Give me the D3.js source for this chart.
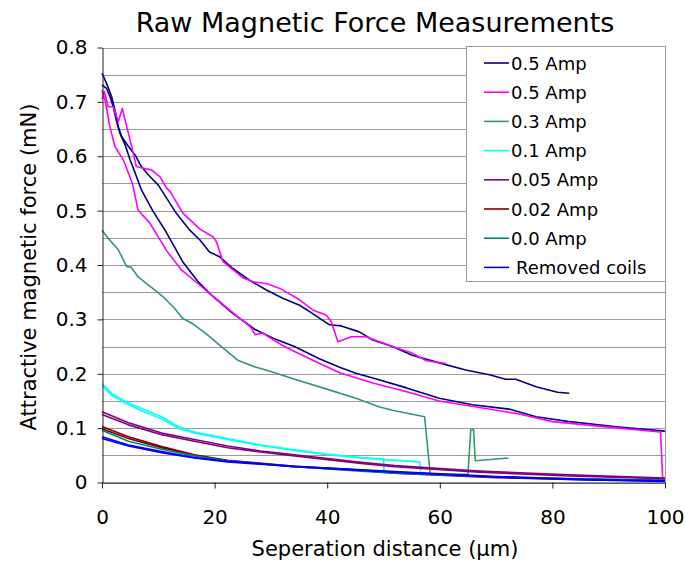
<!DOCTYPE html>
<html>
<head>
<meta charset="utf-8">
<script src="https://cdn.jsdelivr.net/npm/d3@7"></script>
<style>
  body { margin: 0; background: #fff; }
  text { font-family: "DejaVu Sans", Verdana, sans-serif; }
</style>
</head>
<body>
<svg id="chart" width="685" height="562"></svg>
<script>
// distance (um) vs force (mN)
let navyOut = [[0,0.753],[0.8,0.734],[1.7,0.710],[2.3,0.685],[2.9,0.654],[3.5,0.636],[4.7,0.618],[5.9,0.602],[7.0,0.581],[8.2,0.566],[10.0,0.547],[13.2,0.495],[15.6,0.464],[17.4,0.446],[19.1,0.424],[20.9,0.415],[23.2,0.394],[26.2,0.372],[29.2,0.354],[32.1,0.339],[35.1,0.326],[37.5,0.310],[40.4,0.290],[42.5,0.288],[45.7,0.277],[48.1,0.262],[51.6,0.250],[55.1,0.234],[59.9,0.220],[64.6,0.207],[68.8,0.198],[71.7,0.190],[73.5,0.190],[77.1,0.176],[80.9,0.166],[83,0.164]]
let navyBack = [[0,0.731],[0.8,0.725],[1.4,0.710],[2.0,0.691],[2.6,0.664],[3.2,0.642],[4.1,0.621],[5.0,0.593],[5.9,0.569],[7.0,0.538],[9.0,0.500],[11.2,0.464],[14.4,0.405],[17.0,0.370],[19.4,0.345],[23.0,0.313],[27.1,0.282],[30.5,0.265],[34.2,0.250],[38.5,0.228],[42.2,0.212],[45.1,0.201],[48.1,0.192],[54.1,0.174],[59.9,0.155],[65.8,0.143],[72.3,0.135],[77.1,0.121],[83,0.112],[91.8,0.102],[99.5,0.095],[100,0.094]]
let magentaOut = [[0,0.705],[0.4,0.719],[1.1,0.691],[2.0,0.691],[2.9,0.664],[3.6,0.688],[4.4,0.654],[5.2,0.621],[6.1,0.581],[7.3,0.578],[8.8,0.575],[10.3,0.562],[11.5,0.541],[12.1,0.535],[14.4,0.495],[17.4,0.466],[19.7,0.452],[20.3,0.443],[21.5,0.406],[23.3,0.391],[25.1,0.376],[26.8,0.369],[29.2,0.366],[31.6,0.357],[35.1,0.336],[37.5,0.317],[39.8,0.308],[40.7,0.296],[41.9,0.259],[44.3,0.268],[46.9,0.268],[51.6,0.250],[55.1,0.238],[57.6,0.224],[61.1,0.219]]
let magentaBack = [[0,0.722],[0.6,0.700],[1.4,0.654],[2.3,0.618],[3.8,0.593],[5.4,0.550],[6.4,0.501],[8.5,0.477],[11.5,0.426],[14.1,0.391],[17.7,0.360],[21.2,0.330],[24.8,0.299],[26.5,0.285],[27.2,0.272],[28.5,0.275],[31.9,0.253],[34.2,0.241],[38.0,0.222],[42.2,0.202],[48.1,0.183],[54.1,0.167],[59.9,0.150],[67.6,0.137],[74.1,0.126],[80,0.112],[91.8,0.100],[99.2,0.093],[99.6,0.005]]
let green3 = [[0,0.464],[1.1,0.449],[2.9,0.428],[4.4,0.397],[5.2,0.396],[6.4,0.378],[9.4,0.354],[10.8,0.342],[12.9,0.320],[14.3,0.302],[16.4,0.290],[18.8,0.271],[21.2,0.250],[24.1,0.225],[27.1,0.213],[30,0.204],[34.2,0.190],[39.2,0.174],[45.1,0.155],[49.3,0.139],[51.6,0.133],[57.3,0.121],[58.3,0.015],[65,0.015],[65.5,0.097],[66.0,0.097],[66.3,0.040],[72.2,0.045]]
let cyanA = [[0,0.182],[1.7,0.164],[4.1,0.149],[7.0,0.136],[10.6,0.121],[13.5,0.103],[16.4,0.093],[22.3,0.081],[28.2,0.069],[34.2,0.060],[40.1,0.052],[46.0,0.046],[50.0,0.043],[50.1,0.022]]
let cyanB = [[0,0.178],[1.7,0.161],[4.1,0.146],[7.0,0.132],[10.6,0.117],[13.5,0.100],[16.4,0.091],[22.3,0.079],[28.2,0.068],[34.2,0.059],[40.1,0.051],[46.0,0.045],[50,0.042],[56.4,0.038],[56.6,0.020]]
let purpleA = [[0,0.130],[4.7,0.110],[10.6,0.091],[16.4,0.079],[22.3,0.067],[28.2,0.058],[34.2,0.051],[40.1,0.044],[46,0.037],[52,0.031],[67,0.021],[83,0.014],[100,0.008]]
let purpleB = [[0,0.125],[4.7,0.106],[10.6,0.088],[16.4,0.076],[22.3,0.064],[28.2,0.056],[34.2,0.049],[40.1,0.042],[46,0.035],[52,0.029],[67,0.019],[83,0.012],[100,0.007]]
let redA = [[0,0.103],[4.7,0.084],[10.6,0.066],[16.4,0.051],[22.3,0.041],[34.2,0.030],[46,0.023],[52,0.018],[70,0.010],[85,0.006],[100,0.004]]
let redB = [[0,0.099],[4.7,0.081],[10.6,0.064],[16.4,0.050],[22.3,0.040],[34.2,0.029],[46,0.022],[52,0.017],[70,0.009],[85,0.005],[100,0.003]]
let tealA = [[0,0.096],[4.7,0.076],[10.6,0.061],[16.4,0.049],[22.3,0.040],[34.2,0.029],[46,0.021],[52,0.017],[70,0.010],[100,0.004]]
let blueA = [[0,0.084],[4.7,0.069],[10.6,0.057],[16.4,0.046],[22.3,0.039],[34.2,0.030],[52,0.020],[70,0.011],[85,0.006],[100,0.003]]
let blueB = [[0,0.081],[4.7,0.067],[10.6,0.055],[16.4,0.045],[22.3,0.038],[34.2,0.029],[52,0.019],[70,0.010],[85,0.005],[100,0.002]]

let names = ["0.5 Amp", "0.5 Amp", "0.3 Amp", "0.1 Amp", "0.05 Amp", "0.02 Amp", "0.0 Amp", "Removed coils"]
let colors = ["#000080", "#ff00ff", "#339966", "#00ffff", "#800080", "#800000", "#008080", "#0000ff"]
let traces = [[navyOut, navyBack], [magentaOut, magentaBack], [green3], [cyanA, cyanB], [purpleA, purpleB], [redA, redB], [tealA], [blueA, blueB]]

let xTicks = [0, 20, 40, 60, 80, 100]
let yTicks = [0, 0.1, 0.2, 0.3, 0.4, 0.5, 0.6, 0.7, 0.8]
let yGrid = d3.range(0, 0.8001, 0.05)

let x = d3.scaleLinear().domain([0, 100]).range([102, 665])
let y = d3.scaleLinear().domain([0, 0.8]).range([482.5, 47.5])

let svg = d3.select("#chart")

// grid
svg.append("g")
    .selectAll("line")
    .data(yGrid)
    .join("line")
    .attr("x1", x(0))
    .attr("x2", x(100))
    .attr("y1", d => Math.round(y(d)) + 0.5)
    .attr("y2", d => Math.round(y(d)) + 0.5)
    .attr("stroke", "#9a9a9a")
    .attr("stroke-width", 1)

svg.append("line")
    .attr("x1", Math.round(x(100)) + 0.5)
    .attr("x2", Math.round(x(100)) + 0.5)
    .attr("y1", y(0.8))
    .attr("y2", y(0))
    .attr("stroke", "#9a9a9a")

let line = d3.line()
    .x(d => x(d[0]))
    .y(d => y(d[1]))

let series = names.map((n, i) => ({ name: n, color: colors[i], traces: traces[i] }))

svg.append("g")
    .selectAll("g")
    .data(series)
    .join("g")
    .attr("stroke", d => d.color)
    .selectAll("path")
    .data(d => d.traces)
    .join("path")
    .attr("d", line)
    .attr("fill", "none")
    .attr("stroke-width", 1.6)
    .attr("stroke-linejoin", "round")

// axes
let axisL = d3.axisLeft(y)
    .tickValues(yTicks)
    .tickSizeInner(5)
    .tickSizeOuter(0)
    .tickPadding(10)
    .tickFormat(d => d === 0 ? "0" : d.toFixed(1))

let axisB = d3.axisBottom(x)
    .tickValues(xTicks)
    .tickSizeInner(6)
    .tickSizeOuter(0)
    .tickPadding(21)

let gl = svg.append("g")
    .attr("transform", "translate(102.5,0)")
    .call(axisL)
gl.select(".domain").attr("stroke", "#222")
gl.selectAll(".tick line").attr("stroke", "#222")
gl.selectAll("text").attr("font-size", 20).attr("fill", "#000")
    .attr("font-family", "DejaVu Sans, Verdana, sans-serif")

let gb = svg.append("g")
    .attr("transform", "translate(0,482.5)")
    .call(axisB)
gb.select(".domain").attr("stroke", "#222")
gb.selectAll(".tick line").attr("stroke", "#222")
gb.selectAll("text").attr("font-size", 20).attr("fill", "#000")
    .attr("font-family", "DejaVu Sans, Verdana, sans-serif")

// titles
svg.append("text")
    .attr("x", 375)
    .attr("y", 32)
    .attr("text-anchor", "middle")
    .attr("font-size", 27)
    .text("Raw Magnetic Force Measurements")

svg.append("text")
    .attr("x", 385)
    .attr("y", 556)
    .attr("text-anchor", "middle")
    .attr("font-size", 21)
    .text("Seperation distance (μm)")

svg.append("text")
    .attr("transform", "translate(36,267) rotate(-90)")
    .attr("text-anchor", "middle")
    .attr("font-size", 21)
    .text("Attractive magnetic force (mN)")

// legend
let lg = svg.append("g")
lg.append("rect")
    .attr("x", 466.5)
    .attr("y", 46.5)
    .attr("width", 199)
    .attr("height", 235)
    .attr("fill", "#fff")
    .attr("stroke", "#9a9a9a")

let item = lg.selectAll("g.item")
    .data(series)
    .join("g")
    .attr("class", "item")
    .attr("transform", (d, i) => `translate(0,${63 + i * 29.2})`)

item.append("line")
    .attr("x1", 484)
    .attr("x2", 509)
    .attr("stroke", d => d.color)
    .attr("stroke-width", 1.6)

item.append("text")
    .attr("x", d => d.name === "Removed coils" ? 516 : 511)
    .attr("y", 6.5)
    .attr("font-size", 18)
    .text(d => d.name)
</script>
</body>
</html>
